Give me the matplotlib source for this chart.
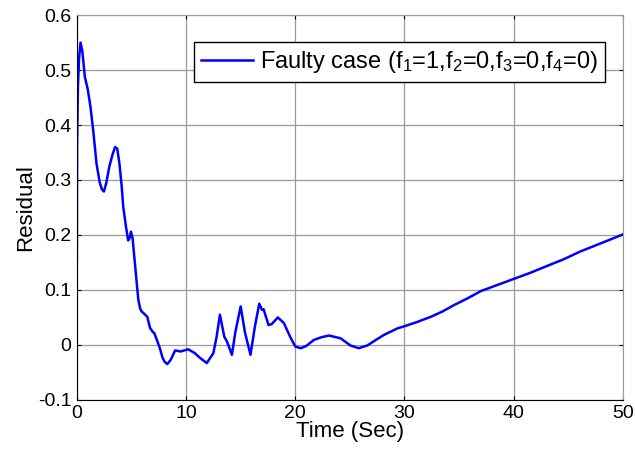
import matplotlib.pyplot as plt
import numpy as np

plt.rcParams['font.family'] = ['Liberation Sans', 'DejaVu Sans']
plt.rcParams['mathtext.default'] = 'regular'

# values
time = [0.0, 0.02, 0.1, 0.2, 0.34, 0.5, 0.73, 1.0, 1.25, 1.5, 1.8, 2.1, 2.3, 2.48, 2.7,
        2.97, 3.25, 3.5, 3.7, 3.9, 4.1, 4.25, 4.5, 4.7, 4.85, 4.95, 5.1, 5.23, 5.45,
        5.63, 5.8, 5.93, 6.2, 6.45, 6.7, 6.9, 7.1, 7.35, 7.6, 7.86, 8.05, 8.28, 8.6,
        9.0, 9.5, 10.2, 10.8, 11.3, 11.9, 12.5, 12.8, 13.1, 13.5, 13.75, 14.2, 14.5,
        15.0, 15.4, 15.9, 16.3, 16.7, 16.95, 17.1, 17.55, 17.85, 18.4, 18.95, 19.55,
        20.0, 20.5, 21.0, 21.7, 22.4, 23.1, 24.15, 25.05, 25.8, 26.6, 27.3, 28.1,
        29.35, 30.0, 31.2, 32.4, 33.5, 34.5, 35.8, 37.0, 38.5, 40.0, 41.5, 43.1,
        44.6, 46.1, 48.0, 50.0]
residual = [0.155, 0.36, 0.47, 0.52, 0.55, 0.535, 0.488, 0.465, 0.433, 0.39, 0.33,
            0.295, 0.283, 0.279, 0.295, 0.324, 0.345, 0.36, 0.357, 0.33, 0.29, 0.251,
            0.215, 0.19, 0.195, 0.206, 0.195, 0.167, 0.12, 0.082, 0.066, 0.061, 0.056,
            0.051, 0.031, 0.025, 0.021, 0.008, -0.006, -0.024, -0.031, -0.035, -0.027,
            -0.010, -0.012, -0.008, -0.015, -0.024, -0.033, -0.015, 0.015, 0.055,
            0.015, 0.006, -0.018, 0.022, 0.07, 0.022, -0.018, 0.033, 0.075, 0.064,
            0.065, 0.036, 0.038, 0.050, 0.040, 0.014, -0.003, -0.006, -0.002, 0.009,
            0.014, 0.017, 0.012, -0.001, -0.006, -0.001, 0.008, 0.018, 0.030, 0.034,
            0.042, 0.051, 0.061, 0.072, 0.085, 0.098, 0.109, 0.12, 0.131, 0.144,
            0.156, 0.170, 0.185, 0.201]
x_ticks = [0, 10, 20, 30, 40, 50]
y_ticks = [-0.1, 0, 0.1, 0.2, 0.3, 0.4, 0.5, 0.6]
y_labels = ['-0.1', '0', '0.1', '0.2', '0.3', '0.4', '0.5', '0.6']

fig = plt.figure(figsize=(6.35, 4.57), dpi=100)
ax = fig.add_axes([0.121, 0.125, 0.860, 0.842])

ax.plot(time, residual, color='#0000ff', linewidth=1.8,
        label='Faulty case (f$_1$=1,f$_2$=0,f$_3$=0,f$_4$=0)')

ax.set_xlim(0, 50)
ax.set_ylim(-0.1, 0.6)
ax.set_xticks(x_ticks)
ax.set_yticks(y_ticks)
ax.set_yticklabels(y_labels)
ax.tick_params(direction='in', labelsize=14, top=True, right=True, length=3)
ax.tick_params(axis='x', pad=4)
ax.tick_params(axis='y', pad=4)
ax.grid(True, color='#9a9a9a', linewidth=0.9)
for side in ['top', 'right']:
    ax.spines[side].set_color('#9a9a9a')
ax.set_xlabel('Time (Sec)', fontsize=16, labelpad=-1)
ax.set_ylabel('Residual', fontsize=16, labelpad=1)

leg = ax.legend(loc='upper right', bbox_to_anchor=(0.967, 0.93), fontsize=17,
                fancybox=False, framealpha=1, edgecolor='black',
                handlelength=2.2, handletextpad=0.3, borderpad=0.3,
                borderaxespad=0)
leg.get_frame().set_linewidth(1.0)

plt.savefig('out.png', dpi=100)
plt.close(fig)
